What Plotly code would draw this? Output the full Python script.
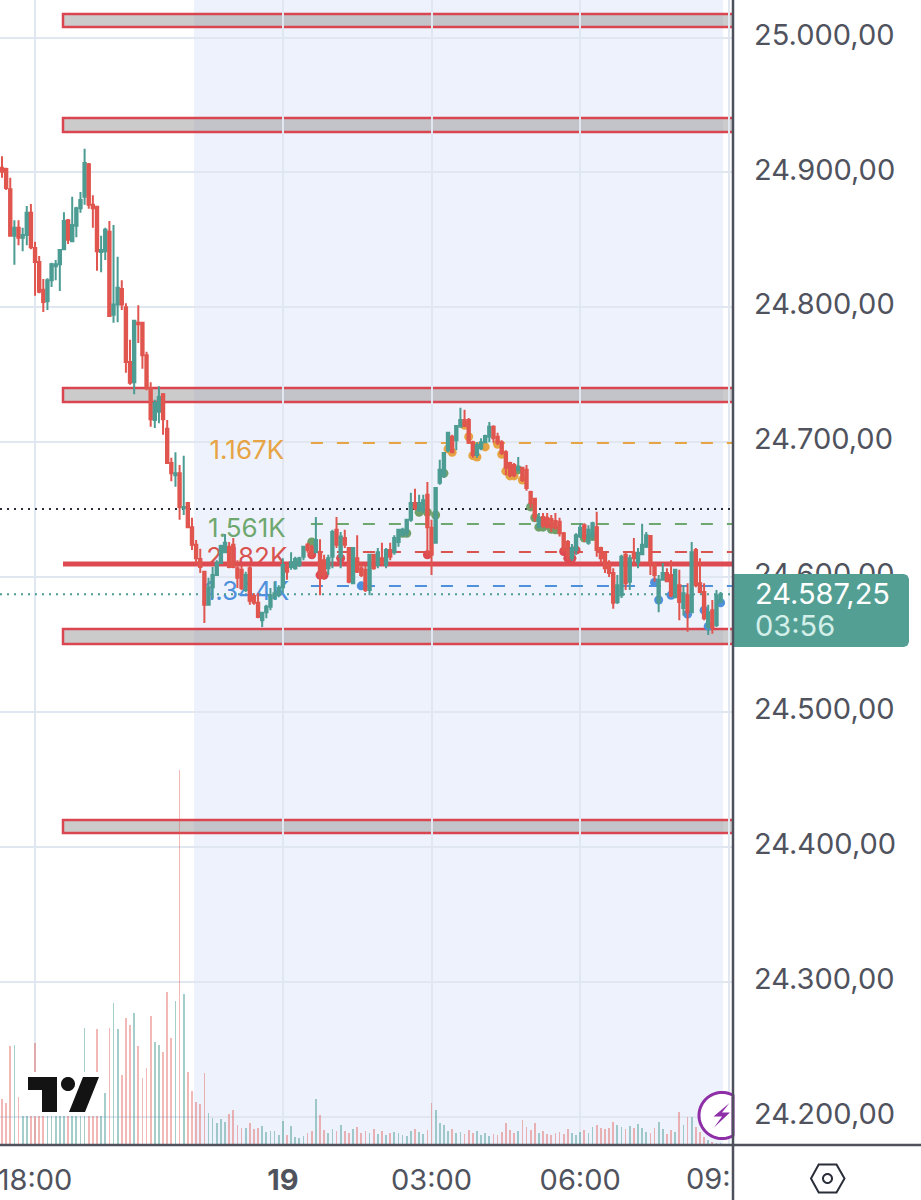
import numpy as np
import plotly.graph_objects as go

# ---------- data ----------
open_ = [
24903.5,24902.5,24887.5,24853,24859,24851.5,24853.5,24870,24844,24833.5,
24813,24804.5,24820,24830.5,24832,24843,24864.5,24849,24860.5,24873.5,
24882,24906,24876,24874.5,24841,24841.5,24856,24794.5,24802,24813.5,
24800,24759.5,24744.5,24788.5,24788.5,24764.5,24740,24716.5,24722.5,24735.5,
24710,24684.5,24675.5,24677,24651,24655,24637,24624,24613.5,24604,
24579.5,24592.5,24601.5,24610.5,24618.5,24622.5,24624,24606.5,24605.5,24590.5,
24606.5,24586,24581,24568,24574,24578,24584.5,24586.5,24592.5,24608,
24607.5,24606.5,24609,24615,24624,24622.5,24618.5,24618.5,24612.5,24606.5,
24615,24635,24615,24629,24621.5,24595.5,24614,24606.5,24605.5,24590.5,
24616.5,24609,24614,24609,24620,24618.5,24626,24631,24632.5,24642.5,
24655,24649.5,24649.5,24661,24636.5,24625.5,24670,24675.5,24694,24704,
24701.5,24711.5,24716.5,24716.5,24700,24690.5,24695.5,24700,24704,24711.5,
24704,24700,24692.5,24684.5,24683,24679.5,24681,24679.5,24663,24658,
24637,24644.5,24644,24643,24641.5,24641,24632.5,24626,24614,24620,
24630,24638.5,24625.5,24630,24637,24621.5,24618,24609,24603,24581.5,
24586.5,24616.5,24596.5,24618,24611,24617,24622.5,24630.5,24609,24581.5,
24598,24603,24601.5,24585,24594,24577,24586.5,24574,24620,24595.5,
24589,24563,24575.5,24564.5,24581.5]
high = [
24912,24903.5,24896,24864.5,24864.5,24859,24875,24876.5,24848.5,24838,
24821,24821.5,24833,24835,24843,24870.5,24865.5,24882,24874.5,24885.5,
24917.5,24907,24883,24875,24853,24859,24864,24861,24837.5,24820,
24803,24776,24790,24801.5,24788.5,24767,24744.5,24731.5,24741.5,24736.5,
24716.5,24688.5,24692.5,24683,24690,24655.5,24644,24627.5,24621,24604,
24599.5,24607.5,24612.5,24624,24632,24626,24629,24612.5,24609,24604,
24609,24588,24588,24574,24579.5,24592,24596.5,24594,24614,24610.5,
24618.5,24615,24615,24623,24625.5,24624,24644.5,24628,24616.5,24616.5,
24635,24644.5,24633.5,24635,24621.5,24621.5,24631,24611,24609,24616.5,
24616.5,24621.5,24625.5,24621.5,24625.5,24631,24635.5,24636.5,24643,24662.5,
24665.5,24661,24661,24670.5,24642.5,24666,24687,24692.5,24707.5,24705.5,
24712.5,24725.5,24724,24718,24701,24700,24703,24705.5,24715,24712.5,
24707,24701.5,24694,24685.5,24684.5,24689,24681.5,24683,24664,24658.5,
24647.5,24647.5,24647.5,24646,24647.5,24644,24633.5,24627.5,24624.5,24632.5,
24640,24640,24638.5,24641,24648.5,24622.5,24618.5,24612.5,24606.5,24601.5,
24616.5,24618.5,24616.5,24629,24621.5,24639.5,24633.5,24631,24611,24601.5,
24610.5,24606.5,24612.5,24605.5,24605.5,24594,24595.5,24626,24621.5,24614,
24595.5,24579.5,24583,24590.5,24589]
low = [
24896,24887,24853,24831.5,24846,24841.5,24846,24843,24808.5,24810.5,
24796.5,24798,24815,24820,24812,24842.5,24847,24848.5,24852,24870,
24876,24873,24859,24827,24826,24835,24793,24788.5,24789,24798,
24751.5,24742.5,24735.5,24773.5,24754.5,24738.5,24711.5,24710.5,24714,24705.5,
24684.5,24671,24667,24642.5,24646,24637,24620,24610.5,24603,24566,
24579.5,24584,24601.5,24610.5,24618,24606.5,24606.5,24592,24590.5,24589,
24579.5,24579.5,24569.5,24563,24569.5,24575.5,24583,24585,24588,24598,
24605.5,24605.5,24607.5,24612.5,24618,24614,24618,24586.5,24598,24601.5,
24606.5,24621.5,24606.5,24621.5,24595.5,24595.5,24603,24600,24589,24586.5,
24605.5,24606.5,24609,24606.5,24612.5,24616.5,24622.5,24630,24630,24641,
24649.5,24648.5,24647.5,24616.5,24601.5,24625.5,24668.5,24673.5,24692.5,24692,
24694,24711.5,24711.5,24699.5,24688.5,24688.5,24694,24699.5,24700,24699.5,
24698,24690.5,24675.5,24674,24674,24678.5,24670.5,24664,24651,24641,
24636.5,24636.5,24636.5,24633.5,24635,24630,24618.5,24612.5,24612,24616.5,
24629,24626,24624,24627.5,24615,24610.5,24603,24600,24576.5,24580,
24584.5,24590.5,24590.5,24609,24606.5,24616.5,24621.5,24601.5,24596.5,24574,
24598,24596.5,24585,24584.5,24568,24571.5,24559.5,24573.5,24592.5,24588,
24568,24557,24558,24563,24581]
close = [
24900.5,24888.5,24853,24859,24851.5,24853.5,24870,24844.5,24833.5,24811.5,
24804,24820,24832,24832,24842.5,24864,24850,24861,24873.5,24879.5,
24907,24876,24873.5,24841.5,24842.5,24857.5,24793.5,24802,24814.5,24802,
24759.5,24744,24790,24787.5,24764.5,24740,24717,24729,24733.5,24717,
24684.5,24677,24677,24652,24652,24637,24624,24614,24607.5,24579.5,
24592.5,24601.5,24610.5,24623,24625.5,24607.5,24607.5,24599.5,24592,24601.5,
24582.5,24581,24570.5,24573.5,24578,24586.5,24588,24592,24609,24604,
24611,24613.5,24614,24622.5,24620,24616.5,24627.5,24601.5,24601.5,24614,
24633.5,24624,24630,24624,24596.5,24621.5,24604,24601.5,24590.5,24616.5,
24606.5,24618.5,24610.5,24620,24615,24629,24635,24635,24642.5,24655,
24651,24655,24657,24637,24616.5,24666,24679.5,24692,24707,24692.5,
24712,24716.5,24712,24699.5,24690.5,24698,24700,24704.5,24711.5,24703,
24699.5,24692,24681,24675.5,24675.5,24681.5,24672,24666,24655,24644,
24644,24638,24637,24637,24636.5,24632.5,24620,24615,24621.5,24631,
24636.5,24629,24635,24640,24620,24614,24606.5,24603,24581,24594,
24615,24595.5,24614,24614,24618,24624,24631,24611,24601.5,24598,
24603,24597,24586.5,24605.5,24581.5,24588,24574,24618.5,24594,24589,
24569.5,24574,24562.5,24586.5,24587.25]
volume = [
46,42,99,100,48,41,50,42,102,60,
55,65,50,60,55,45,70,60,50,55,
117,60,60,116,53,52,117,142,116,70,
127,120,132,99,67,77,129,103,100,93,
153,107,144,375,151,73,54,43,41,72,
32,27,22,26,23,31,35,20,17,17,
22,16,17,19,13,14,14,10,24,10,
19,8,7,9,12,14,46,30,15,12,
16,14,20,14,12,16,18,12,14,12,
16,11,14,10,12,13,12,10,9,14,
16,13,11,15,42,35,22,20,14,16,
12,13,11,15,12,14,10,12,9,11,
10,13,22,15,12,14,25,18,15,22,
12,14,11,10,12,13,11,16,12,10,
13,15,12,18,20,17,16,17,23,20,
18,16,19,17,21,17,13,12,17,23,
16,11,15,13,33,20,28,28,18,13,
8,5,3,2,2]
bars = list(range(len(close)))

tick_bars = [8, 68, 104, 140, 176]
tick_text = ["18:00", "<b>19</b>", "03:00", "06:00", ""]
price_ticks = [24200, 24300, 24400, 24500, 24600, 24700, 24800, 24900, 25000]

zones = [(25017.4, 25007.8), (24940.3, 24930.0), (24740.2, 24729.8),
         (24561.5, 24550.4), (24419.9, 24410.3)]
pivot_line = 24609.7
prev_close = 24650.5
last_price = 24587.25
level_labels = ["1.167K", "1.561K", "2.182K", "1.344K"]
level_prices = [24699.4, 24639.4, 24618.6, 24593.4]
label_prices = [24692.0, 24634.2, 24613.4, 24587.5]
level_colors = ["#e6a445", "#6fa86f", "#d9534f", "#4f90dc"]

dots_orange_x = [108, 109, 112, 113, 114, 115, 117, 120, 121, 122, 123, 124, 126]
dots_orange_y = [24695, 24692.5, 24712.5, 24704, 24690, 24689, 24696.5, 24698.5, 24691, 24678.5, 24675, 24675, 24672]
dots_green_x = [75, 97, 98, 101, 103, 105, 107, 125, 128, 129, 130, 131, 133, 134, 141, 143]
dots_green_y = [24626, 24632.5, 24632.5, 24648, 24648, 24646, 24677, 24679.5, 24652, 24644, 24637, 24637, 24635.5, 24635, 24629, 24630]
dots_red_x = [75, 77, 78, 82, 103, 136, 137, 138, 139]
dots_red_y = [24616.5, 24601.5, 24601.5, 24614, 24616.5, 24619, 24614, 24614, 24620]
dots_blue_x = [87, 158, 159, 162, 166, 170, 171, 174]
dots_blue_y = [24593.5, 24596, 24583, 24586.5, 24572.5, 24575.5, 24563.5, 24581]

# ---------- helpers (layout only) ----------
PLOT_W, PLOT_H = 733.0, 1145.0
X_RANGE = [-0.484, 177.0]
Y_RANGE = [24179.0, 25027.8]
def px(x): return x / PLOT_W
def py(y): return 1 - y / PLOT_H
def path(points, close_it=True):
    s = "M " + " L ".join(f"{px(x):.5f},{py(y):.5f}" for x, y in points)
    return s + (" Z" if close_it else "")

UP, DOWN = "#4c9c93", "#e0564f"
TEXT = "#50535e"
FONT = "Inter"
AXIS_SIZE = 29
vol_colors = ["rgba(76,156,147,0.5)" if c >= o else "rgba(224,86,79,0.42)" for o, c in zip(open_, close)]

fig = go.Figure()
# volume (bottom layer)
fig.add_trace(go.Bar(x=bars, y=volume, width=0.42, marker=dict(color=vol_colors, line_width=0), yaxis="y"))
# level lines and labels (beneath candles)
X_END = X_RANGE[1]
fig.add_trace(go.Scatter(x=[X_RANGE[0], X_END], y=[prev_close] * 2, mode="lines", yaxis="y2",
                         line=dict(color="#2a2e39", width=2, dash="2px,5px")))
fig.add_trace(go.Scatter(x=[X_RANGE[0], X_END], y=[last_price] * 2, mode="lines", yaxis="y2",
                         line=dict(color="#4c9c93", width=2, dash="2px,5px")))
for p, col in zip(level_prices, level_colors):
    fig.add_trace(go.Scatter(x=[74.8, X_END], y=[p, p], mode="lines", yaxis="y2",
                             line=dict(color=col, width=2, dash="12px,14px")))
for lab, p, col in zip(level_labels, label_prices, level_colors):
    fig.add_trace(go.Scatter(x=[59.3], y=[p], mode="text", text=[lab], yaxis="y2",
                             textfont=dict(family=FONT, size=26, color=col), textposition="middle center"))
fig.add_trace(go.Scatter(x=[14.77, X_END], y=[pivot_line] * 2, mode="lines", yaxis="y2",
                         line=dict(color="#dd4a52", width=5)))
for xs, ys, col in [(dots_orange_x, dots_orange_y, "#e6a445"), (dots_green_x, dots_green_y, "#6fa06a"),
                    (dots_red_x, dots_red_y, "#dd4a52"), (dots_blue_x, dots_blue_y, "#4f90dc")]:
    fig.add_trace(go.Scatter(x=xs, y=ys, mode="markers", yaxis="y2", marker=dict(color=col, size=9, line_width=0)))
# candles
fig.add_trace(go.Candlestick(x=bars, open=open_, high=high, low=low, close=close, yaxis="y3",
                             increasing=dict(line=dict(color=UP, width=2), fillcolor=UP),
                             decreasing=dict(line=dict(color=DOWN, width=2), fillcolor=DOWN),
                             whiskerwidth=0))

shapes = []
# session shading
shapes.append(dict(type="rect", xref="x", yref="paper", x0=46.5, x1=174.6, y0=0, y1=1,
                   fillcolor="#eef2fc", line_width=0, layer="below"))
# zones
for hi, lo in zones:
    shapes.append(dict(type="rect", xref="x", yref="y2", x0=14.77, x1=X_END + 1, y0=lo, y1=hi,
                       fillcolor="rgba(145,145,147,0.47)", line=dict(color="#d9464f", width=2.5), layer="below"))
# TradingView logo with halo
shapes.append(dict(type="rect", xref="paper", yref="paper", x0=px(21), x1=px(103), y0=py(1116), y1=py(1072),
                   fillcolor="white", line_width=0, layer="above"))
shapes.append(dict(type="path", xref="paper", yref="paper", layer="above", fillcolor="#131313", line_width=0,
                   path=path([(28, 1077), (57, 1077), (57, 1112), (42, 1112), (42, 1090), (28, 1090)])))
shapes.append(dict(type="path", xref="paper", yref="paper", layer="above", fillcolor="#131313", line_width=0,
                   path=path([(83, 1077), (99, 1077), (85, 1112), (69, 1112)])))
t = np.linspace(0, 2 * np.pi, 41)
shapes.append(dict(type="path", xref="paper", yref="paper", layer="above", fillcolor="#131313", line_width=0,
                   path=path([(68 + 7 * np.cos(a), 1084 + 7 * np.sin(a)) for a in t])))
# badge
t = np.linspace(0, 2 * np.pi, 73)
shapes.append(dict(type="path", xref="paper", yref="paper", layer="above", fillcolor="white",
                   line=dict(color="#8e2fa8", width=3),
                   path=path([(min(722 + 23 * np.cos(a), 733), 1115.5 + 23 * np.sin(a)) for a in t])))
shapes.append(dict(type="path", xref="paper", yref="paper", layer="above", fillcolor="#8e2fa8", line_width=0,
                   path=path([(729.5, 1103), (713.5, 1116.5), (722, 1116.5), (714, 1127.5), (730, 1112.5), (722, 1112.5)])))
# price tag
L, R, T, B, r = 734, 909, 574, 647, 5
shapes.append(dict(type="path", xref="paper", yref="paper", layer="above", fillcolor="#539f94", line_width=0,
                   path=path([(L, T), (R - r, T), (R - 1.5, T + 1.5), (R, T + r), (R, B - r), (R - 1.5, B - 1.5), (R - r, B), (L, B)])))
# axis lines
shapes.append(dict(type="line", xref="paper", yref="paper", x0=0, x1=921 / PLOT_W, y0=py(1145), y1=py(1145),
                   line=dict(color="#4e515b", width=2.5), layer="above"))
shapes.append(dict(type="line", xref="paper", yref="paper", x0=1, x1=1, y0=py(0), y1=py(1200),
                   line=dict(color="#4e515b", width=2.5), layer="above"))
# settings icon
shapes.append(dict(type="path", xref="paper", yref="paper", layer="above", fillcolor="rgba(0,0,0,0)",
                   line=dict(color="#2a2e39", width=2),
                   path=path([(811, 1178.5), (818.7, 1164.5), (836.5, 1164.5), (844.5, 1178.5), (836.5, 1192.5), (818.7, 1192.5)])))
t = np.linspace(0, 2 * np.pi, 31)
shapes.append(dict(type="path", xref="paper", yref="paper", layer="above", fillcolor="rgba(0,0,0,0)",
                   line=dict(color="#2a2e39", width=2),
                   path=path([(827.5 + 4.5 * np.cos(a), 1178.5 + 4.5 * np.sin(a)) for a in t])))

annotations = [
    dict(xref="paper", yref="paper", x=px(753), y=py(593), text="24.587,25", showarrow=False, xanchor="left", yanchor="middle",
         font=dict(family=FONT, size=AXIS_SIZE, color="white")),
    dict(xref="paper", yref="paper", x=px(753), y=py(625), text="03:56", showarrow=False, xanchor="left", yanchor="middle",
         font=dict(family=FONT, size=AXIS_SIZE, color="#d3efe9")),
    dict(xref="paper", yref="paper", x=px(733), y=py(1179), text="09:", showarrow=False, xanchor="right", yanchor="middle",
         font=dict(family=FONT, size=AXIS_SIZE, color=TEXT)),
]

grid = "#e1e7f1"
fig.update_layout(
    width=921, height=1200, showlegend=False, autosize=False,
    margin=dict(l=0, r=921 - PLOT_W, t=0, b=1200 - PLOT_H, pad=0, autoexpand=False),
    paper_bgcolor="white", plot_bgcolor="white",
    separators=",.", boxgap=0.42, boxgroupgap=0, bargap=0, hovermode=False,
    shapes=shapes, annotations=annotations,
    xaxis=dict(range=X_RANGE, tickmode="array", tickvals=tick_bars, ticktext=tick_text, showgrid=True,
               gridcolor=grid, gridwidth=2, zeroline=False, showline=False, ticks="", automargin=False,
               ticklabelstandoff=15, ticklabeloverflow="allow", rangeslider=dict(visible=False),
               tickfont=dict(family=FONT, size=AXIS_SIZE, color=TEXT)),
    yaxis=dict(range=[0, PLOT_H], visible=False, showgrid=False, fixedrange=True, automargin=False),
    yaxis2=dict(range=Y_RANGE, overlaying="y", side="right", tickmode="array", tickvals=price_ticks, automargin=False,
                tickformat=",.2f", showgrid=True, gridcolor=grid, gridwidth=2, zeroline=False, showline=False,
                ticks="", ticklabelstandoff=20, ticklabelshift=-3,
                tickfont=dict(family=FONT, size=AXIS_SIZE, color=TEXT)),
    yaxis3=dict(range=Y_RANGE, overlaying="y", side="right", visible=False, showgrid=False, automargin=False),
)
fig.write_html("out.html", config=dict(displayModeBar=False), post_script="document.body.style.margin='0';")
